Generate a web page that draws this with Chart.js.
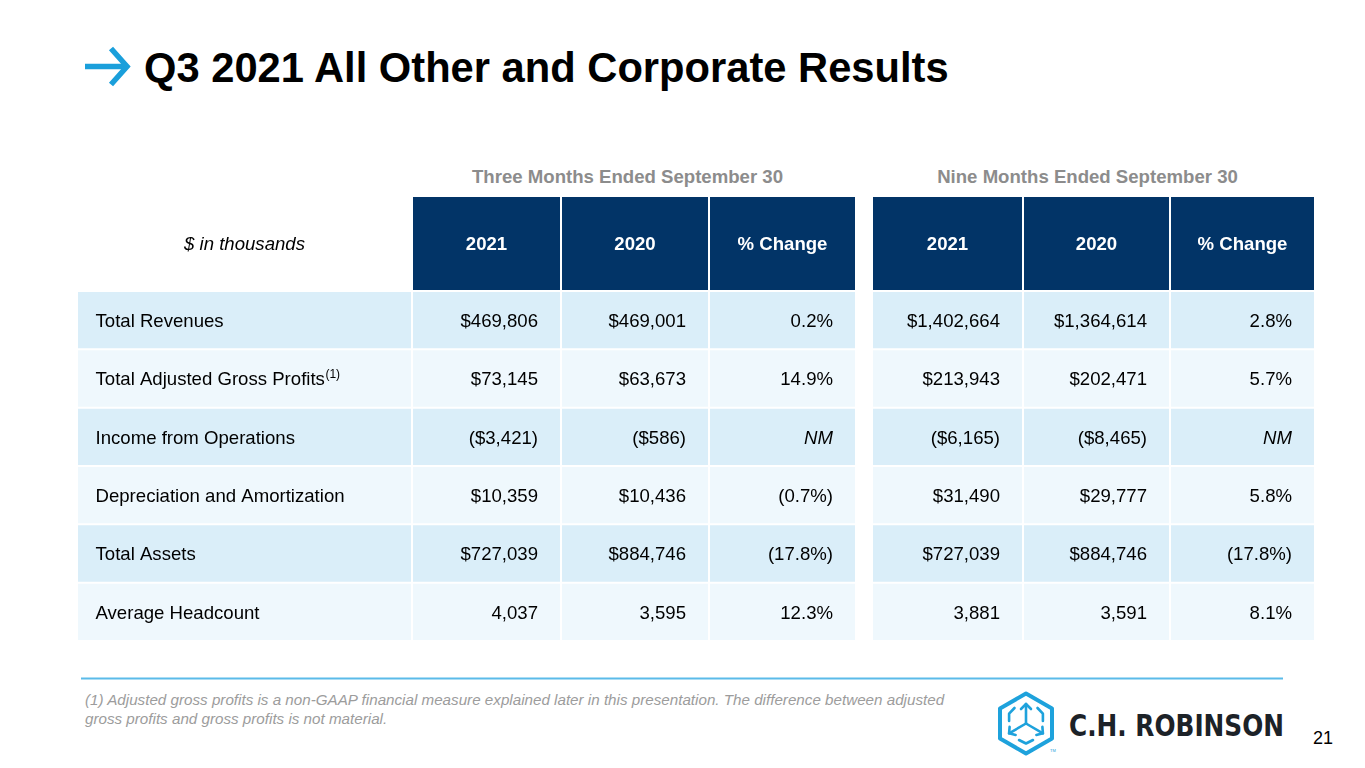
<!DOCTYPE html>
<html>
<head>
<meta charset="utf-8">
<script src="https://cdn.jsdelivr.net/npm/chart.js@4.4.0/dist/chart.umd.min.js"></script>
<style>
  html, body { margin: 0; padding: 0; background: #ffffff; }
  #page { position: relative; width: 1365px; height: 768px; overflow: hidden; font-family: "Liberation Sans", Arial, sans-serif; }
  #deco { position: absolute; left: 0; top: 0; }
  .cv { position: absolute; }
</style>
</head>
<body>
<div id="page">
  <svg id="deco" width="1365" height="768" xmlns="http://www.w3.org/2000/svg">
    <!-- title arrow -->
    <g stroke="#1a9fdb" stroke-width="5.5" fill="none" stroke-linejoin="miter">
      <path d="M85 66.5 H124"/>
      <path d="M111 48.5 L127 66.5 L111 84.5"/>
    </g>
    <text x="144" y="82" font-family="Liberation Sans, Arial, sans-serif" font-weight="bold" font-size="41.7" fill="#000000">Q3 2021 All Other and Corporate Results</text>

    <text id="grp0" x="627.5" y="183" text-anchor="middle" font-family="Liberation Sans, Arial, sans-serif" font-weight="bold" font-size="18.6" fill="#8c8c8c"></text>
    <text id="grp1" x="1087.5" y="183" text-anchor="middle" font-family="Liberation Sans, Arial, sans-serif" font-weight="bold" font-size="18.6" fill="#8c8c8c"></text>

    <!-- separator -->
    <line x1="81" y1="678.5" x2="1283" y2="678.5" stroke="#5bbbe9" stroke-width="2"/>

    <!-- footnote -->
    <text font-family="Liberation Sans, Arial, sans-serif" font-style="italic" font-size="15.2" fill="#9c9c9c">
      <tspan x="85" y="705">(1) Adjusted gross profits is a non-GAAP financial measure explained later in this presentation. The difference between adjusted</tspan>
      <tspan x="85" y="723.5">gross profits and gross profits is not material.</tspan>
    </text>

    <!-- logo -->
    <g fill="none" stroke="#1ea2dc" stroke-width="4" stroke-linejoin="round" stroke-linecap="round">
      <polygon points="1026,693.5 1052,708.5 1052,738.5 1026,753.5 1000,738.5 1000,708.5"/>
      <g stroke-width="2.6">
        <path d="M1026 723.5 V704"/>
        <path d="M1026 723.5 L1009.1 733.3"/>
        <path d="M1026 723.5 L1042.9 733.3"/>
        <path d="M1021 709 L1026 704 L1031 709"/>
        <path d="M1009.6 726.8 L1009.1 733.3 L1015.6 735"/>
        <path d="M1042.4 726.8 L1042.9 733.3 L1036.4 735"/>
        <path d="M1014.5 708 L1009.1 713.7 L1009.1 721"/>
        <path d="M1037.5 708 L1042.9 713.7 L1042.9 721"/>
        <path d="M1019 740 L1026 743.5 L1033 740"/>
      </g>
    </g>
    <text x="1050" y="752" font-family="Liberation Sans, Arial, sans-serif" font-size="4" fill="#1ea2dc">TM</text>
    <text x="1069" y="736" font-family="DejaVu Sans Condensed, DejaVu Sans, sans-serif" font-weight="bold" font-size="30" fill="#1c2228" textLength="215" lengthAdjust="spacingAndGlyphs">C.H. ROBINSON</text>

    <text x="1313" y="744" font-family="Liberation Sans, Arial, sans-serif" font-size="18" fill="#000000">21</text>
  </svg>

  <canvas id="headChart" class="cv" width="1238" height="95" style="left:77px;top:196px;width:1238px;height:95px;"></canvas>
  <canvas id="bodyChart" class="cv" width="1238" height="350" style="left:77px;top:291px;width:1238px;height:350px;"></canvas>
</div>

<script>
// ---------------- DATA ----------------
const groupTitles = ['Three Months Ended September 30', 'Nine Months Ended September 30'];
const unitsLabel = '$ in thousands';
const columnHeaders = ['2021', '2020', '% Change', '2021', '2020', '% Change'];
const rowLabels = [
  'Total Revenues',
  'Total Adjusted Gross Profits',
  'Income from Operations',
  'Depreciation and Amortization',
  'Total Assets',
  'Average Headcount'
];
const rowNotes = ['', '(1)', '', '', '', ''];
const q3Values2021 = ['$469,806', '$73,145', '($3,421)', '$10,359', '$727,039', '4,037'];
const q3Values2020 = ['$469,001', '$63,673', '($586)', '$10,436', '$884,746', '3,595'];
const q3Change = ['0.2%', '14.9%', 'NM', '(0.7%)', '(17.8%)', '12.3%'];
const ytdValues2021 = ['$1,402,664', '$213,943', '($6,165)', '$31,490', '$727,039', '3,881'];
const ytdValues2020 = ['$1,364,614', '$202,471', '($8,465)', '$29,777', '$884,746', '3,591'];
const ytdChange = ['2.8%', '5.7%', 'NM', '5.8%', '(17.8%)', '8.1%'];

// ---------------- LAYOUT / STYLE ----------------
document.getElementById('grp0').textContent = groupTitles[0];
document.getElementById('grp1').textContent = groupTitles[1];

const FONT = '"Liberation Sans", Arial, sans-serif';
const NAVY = '#023467';
const ROW_A = '#daeef9';
const ROW_B = '#eff8fd';
// column widths in table units: label, 3 value cols, gap, 3 value cols
const colWidths = [335, 149, 148, 147, 16, 151, 147, 145];
const gapIndex = 4;
const colSpans = [];
{
  let acc = 0;
  colWidths.forEach((w, i) => { if (i !== gapIndex) colSpans.push([acc, acc + w]); acc += w; });
}
const tableWidth = colWidths.reduce((a, b) => a + b, 0);

const bodyColumns = [rowLabels, q3Values2021, q3Values2020, q3Change, ytdValues2021, ytdValues2020, ytdChange];
const rowColors = rowLabels.map((_, i) => (i % 2 === 0 ? ROW_A : ROW_B));

const cellTextPlugin = {
  id: 'cellText',
  afterDatasetsDraw(chart) {
    const ctx = chart.ctx;
    chart.data.datasets.forEach((ds, di) => {
      const meta = chart.getDatasetMeta(di);
      meta.data.forEach((el, ri) => {
        const t = ds.texts[ri];
        if (!t) return;
        const p = el.getProps(['x', 'base', 'y'], true);
        const left = Math.min(p.x, p.base), right = Math.max(p.x, p.base);
        const size = 18.6;
        const italic = ds.italicAll || t === 'NM';
        ctx.save();
        ctx.fillStyle = ds.textColor;
        ctx.font = (italic ? 'italic ' : '') + (ds.bold ? 'bold ' : '') + size + 'px ' + FONT;
        ctx.textBaseline = 'alphabetic';
        const by = p.y + size * 0.36;
        if (ds.textAlign === 'left') {
          ctx.textAlign = 'left';
          ctx.fillText(t, left + 18.5, by);
          const note = ds.notes ? ds.notes[ri] : '';
          if (note) {
            const w = ctx.measureText(t).width;
            ctx.font = '12px ' + FONT;
            ctx.fillText(note, left + 18.5 + w + 0.5, by - 7);
          }
        } else if (ds.textAlign === 'right') {
          ctx.textAlign = 'right';
          ctx.fillText(t, right - 23, by);
        } else {
          ctx.textAlign = 'center';
          ctx.fillText(t, (left + right) / 2, by);
        }
        ctx.restore();
      });
    });
  }
};

function commonOptions() {
  return {
    responsive: false,
    animation: false,
    indexAxis: 'y',
    layout: { padding: 0 },
    plugins: { legend: { display: false }, tooltip: { enabled: false } },
    scales: {
      x: { type: 'linear', min: 0, max: tableWidth, display: false },
      y: { type: 'category', display: false, offset: true }
    },
    datasets: {
      bar: {
        grouped: false,
        categoryPercentage: 1,
        barPercentage: 1,
        borderWidth: 1,
        borderColor: '#ffffff',
        borderSkipped: false,
        inflateAmount: 0
      }
    }
  };
}

// Header row chart
const headDatasets = [{
  data: [colSpans[0]],
  backgroundColor: 'rgba(255,255,255,0)',
  texts: [unitsLabel], textAlign: 'center', textColor: '#000000', italicAll: true
}];
columnHeaders.forEach((h, ci) => {
  headDatasets.push({
    data: [colSpans[ci + 1]],
    backgroundColor: NAVY,
    texts: [h], textAlign: 'center', textColor: '#ffffff', bold: true
  });
});
new Chart(document.getElementById('headChart'), {
  type: 'bar',
  data: { labels: ['header'], datasets: headDatasets },
  options: commonOptions(),
  plugins: [cellTextPlugin]
});

// Body chart
const bodyDatasets = bodyColumns.map((col, ci) => ({
  data: rowLabels.map(() => colSpans[ci]),
  backgroundColor: rowColors,
  texts: col,
  notes: ci === 0 ? rowNotes : null,
  textAlign: ci === 0 ? 'left' : 'right',
  textColor: '#000000'
}));
new Chart(document.getElementById('bodyChart'), {
  type: 'bar',
  data: { labels: rowLabels, datasets: bodyDatasets },
  options: commonOptions(),
  plugins: [cellTextPlugin]
});
</script>
</body>
</html>
